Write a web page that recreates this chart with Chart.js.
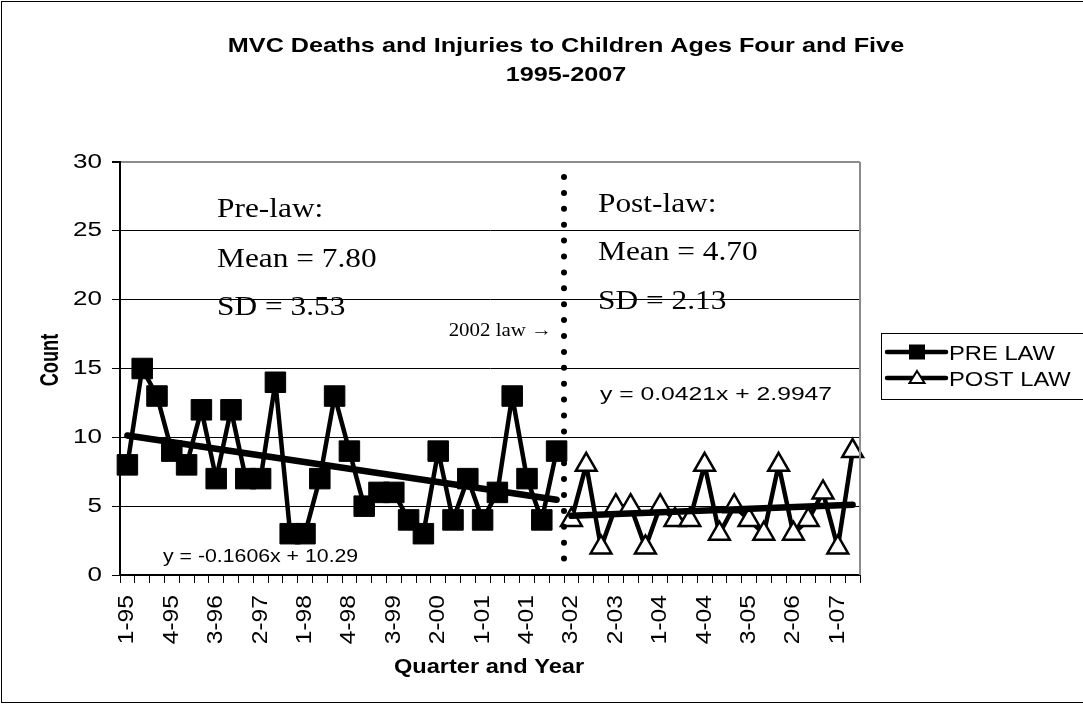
<!DOCTYPE html>
<html>
<head>
<meta charset="utf-8">
<script src="https://cdn.jsdelivr.net/npm/chart.js@4.4.1/dist/chart.umd.min.js"></script>
<style>
html,body{margin:0;padding:0;background:#fff;}
canvas{display:block;}
</style>
</head>
<body>
<canvas id="c" width="1083" height="704"></canvas>
<script>
// ---------- data ----------
const quarters = [
  '1-95','2-95','3-95','4-95',
  '1-96','2-96','3-96','4-96',
  '1-97','2-97','3-97','4-97',
  '1-98','2-98','3-98','4-98',
  '1-99','2-99','3-99','4-99',
  '1-00','2-00','3-00','4-00',
  '1-01','2-01','3-01','4-01',
  '1-02','2-02','3-02','4-02',
  '1-03','2-03','3-03','4-03',
  '1-04','2-04','3-04','4-04',
  '1-05','2-05','3-05','4-05',
  '1-06','2-06','3-06','4-06',
  '1-07','2-07'
];
const preLaw  = [8,15,13,9,8,12,7,12,7,7,14,3,3,7,13,9,5,6,6,4,3,9,4,7,4,6,13,7,4,9];
const postLaw = [4,8,2,5,5,2,5,4,4,8,3,5,4,3,8,3,4,6,2,9];
const preTrendEnds  = [10.13, 5.47];   // trend line at first and last pre-law quarter
const postTrendEnds = [4.30, 5.10];    // trend line at first and last post-law quarter
const yTicks = [0,5,10,15,20,25,30];

const preSeries  = quarters.map((q,i) => i < preLaw.length ? preLaw[i] : null);
const postSeries = quarters.map((q,i) => i >= preLaw.length ? postLaw[i - preLaw.length] : null);
const preTrend   = quarters.map((q,i) => i === 0 ? preTrendEnds[0] : (i === preLaw.length-1 ? preTrendEnds[1] : null));
const postTrend  = quarters.map((q,i) => i === preLaw.length ? postTrendEnds[0] : (i === quarters.length-1 ? postTrendEnds[1] : null));

// ---------- text width helper (source rendering is wider than Arial) ----------
const SANS = "'Liberation Sans', Arial, sans-serif";
const SERIF = "'Liberation Serif', 'Times New Roman', serif";
const SX = {20: 1.3, 22: 1.12};
let stretchOn = false;
function patch(ctx){
  if (ctx.__p) return; ctx.__p = true;
  const orig = ctx.fillText;
  ctx.fillText = function(t, x, y, mw){
    const m = stretchOn && /(\d+(?:\.\d+)?)px/.exec(this.font);
    const sx = m ? (SX[Math.round(parseFloat(m[1]))] || 1) : 1;
    if (sx === 1) return mw === undefined ? orig.call(this, t, x, y) : orig.call(this, t, x, y, mw);
    this.save(); this.translate(x, y); this.scale(sx, 1); orig.call(this, t, 0, 0); this.restore();
  };
}
function txt(ctx, s, x, y, font, sx, align, rot){
  ctx.save();
  ctx.translate(x, y);
  if (rot) ctx.rotate(rot);
  ctx.scale(sx, 1);
  ctx.font = font;
  ctx.textAlign = align || 'left';
  ctx.textBaseline = 'alphabetic';
  ctx.fillStyle = '#000';
  ctx.fillText(s, 0, 0);
  ctx.restore();
}

const decor = {
  id: 'decor',
  beforeDraw(chart){ patch(chart.ctx); stretchOn = true; },
  afterDraw(chart){
    stretchOn = false;
    const ctx = chart.ctx, a = chart.chartArea, xs = chart.scales.x;
    // plot-area border (right grey)
    ctx.save();
    ctx.strokeStyle = '#8c8c8c'; ctx.lineWidth = 2;
    ctx.beginPath(); ctx.moveTo(a.right, a.top); ctx.lineTo(a.right, a.bottom); ctx.stroke();
    // outer chart border
    ctx.strokeStyle = '#000'; ctx.lineWidth = 1;
    ctx.strokeRect(1.5, 1.5, 1150, 701);
    // dotted law line between last pre and first post quarter
    const lx = (xs.getPixelForValue(preLaw.length-1) + xs.getPixelForValue(preLaw.length)) / 2;
    ctx.fillStyle = '#000';
    for (let y = 177; y <= 564; y += 15.9){
      ctx.beginPath(); ctx.arc(lx, y, 3, 0, Math.PI*2); ctx.fill();
    }
    ctx.restore();

    // titles
    txt(ctx, 'MVC Deaths and Injuries to Children Ages Four and Five', 566, 52, 'bold 21px ' + SANS, 1.2, 'center');
    txt(ctx, '1995-2007', 566, 80.5, 'bold 21px ' + SANS, 1.2, 'center');
    txt(ctx, 'Count', 58, 360, 'bold 26px ' + SANS, 0.7, 'center', -Math.PI/2);
    txt(ctx, 'Quarter and Year', 489, 673, 'bold 20px ' + SANS, 1.18, 'center');

    // annotations
    const sf = '28px ' + SERIF;
    txt(ctx, 'Pre-law:', 217, 217, sf, 1.12);
    txt(ctx, 'Mean = 7.80', 217, 266.5, sf, 1.12);
    txt(ctx, 'SD = 3.53', 217, 315, sf, 1.12);
    txt(ctx, 'Post-law:', 598, 212, sf, 1.12);
    txt(ctx, 'Mean = 4.70', 598, 260, sf, 1.12);
    txt(ctx, 'SD = 2.13', 598, 308.5, sf, 1.12);
    txt(ctx, '2002 law \u2192', 552, 336, '19px ' + SERIF, 1.1, 'right');
    txt(ctx, 'y = 0.0421x + 2.9947', 600, 400, '19px ' + SANS, 1.3);
    txt(ctx, 'y = -0.1606x + 10.29', 163, 562, '19px ' + SANS, 1.12);

    // legend
    ctx.save();
    ctx.strokeStyle = '#000'; ctx.lineWidth = 1;
    ctx.strokeRect(881.5, 333.5, 260, 66);
    const rows = [352, 378];
    rows.forEach((ry, k) => {
      ctx.strokeStyle = '#000'; ctx.lineWidth = 4.5; ctx.lineCap = 'round';
      ctx.beginPath(); ctx.moveTo(887, ry); ctx.lineTo(946, ry); ctx.stroke();
      if (k === 0){
        ctx.fillStyle = '#000'; ctx.fillRect(909, ry - 7.5, 16, 15);
      } else {
        ctx.fillStyle = '#fff'; ctx.lineWidth = 2; ctx.lineJoin = 'miter';
        ctx.beginPath(); ctx.moveTo(917, ry - 7); ctx.lineTo(924.5, ry + 5); ctx.lineTo(909.5, ry + 5); ctx.closePath();
        ctx.fill(); ctx.stroke();
      }
    });
    ctx.restore();
    txt(ctx, 'PRE LAW', 949, 359.5, '21px ' + SANS, 1.13);
    txt(ctx, 'POST LAW', 949, 385.5, '21px ' + SANS, 1.13);
  }
};

new Chart(document.getElementById('c'), {
  type: 'line',
  data: {
    labels: quarters,
    datasets: [
      { label: 'PRE LAW', data: preSeries, borderColor: '#000', backgroundColor: '#000',
        borderWidth: 4.5, borderJoinStyle: 'round', tension: 0, pointStyle: 'rect', pointRadius: 14.5,
        pointBackgroundColor: '#000', pointBorderColor: '#000', pointBorderWidth: 1,
        clip: false, order: 1 },
      { label: 'POST LAW', data: postSeries, borderColor: '#000', backgroundColor: '#fff',
        borderWidth: 4.5, borderJoinStyle: 'round', tension: 0, pointStyle: 'triangle', pointRadius: 12,
        pointBackgroundColor: '#fff', pointBorderColor: '#000', pointBorderWidth: 2.5,
        clip: false, order: 1 },
      { label: 'pre trend', data: preTrend, spanGaps: true, borderColor: '#000',
        borderWidth: 6.5, borderCapStyle: 'round', pointRadius: 0, clip: false, order: 0 },
      { label: 'post trend', data: postTrend, spanGaps: true, borderColor: '#000',
        borderWidth: 6.5, borderCapStyle: 'round', pointRadius: 0, clip: false, order: 0 }
    ]
  },
  options: {
    responsive: false,
    animation: false,
    devicePixelRatio: 1,
    events: [],
    layout: { padding: { top: 162, right: 223, left: 0, bottom: 0 } },
    plugins: { legend: { display: false }, title: { display: false }, tooltip: { enabled: false } },
    scales: {
      x: {
        type: 'category',
        offset: true,
        grid: { offset: true, drawOnChartArea: false, color: '#000', tickLength: 8, lineWidth: 1 },
        border: { color: '#000', width: 2 },
        ticks: {
          autoSkip: false, maxRotation: 90, minRotation: 90, padding: 12, color: '#000',
          font: { family: SANS, size: 22 },
          callback: (v, i) => (i % 3 === 0 ? quarters[i] : '')
        },
        afterFit: s => { s.height = 129; }
      },
      y: {
        min: 0, max: 30,
        afterBuildTicks: s => { s.ticks = yTicks.map(v => ({ value: v })); },
        grid: {
          color: c => (c.tick && c.tick.value === 30 ? '#8c8c8c' : '#000'),
          lineWidth: c => (c.tick && c.tick.value === 30 ? 2 : 1),
          tickColor: '#000', tickLength: 8
        },
        border: { color: '#000', width: 2 },
        ticks: { padding: 10, color: '#000', font: { family: SANS, size: 20 } },
        afterFit: s => { s.width = 120; }
      }
    }
  },
  plugins: [decor]
});
</script>
</body>
</html>
